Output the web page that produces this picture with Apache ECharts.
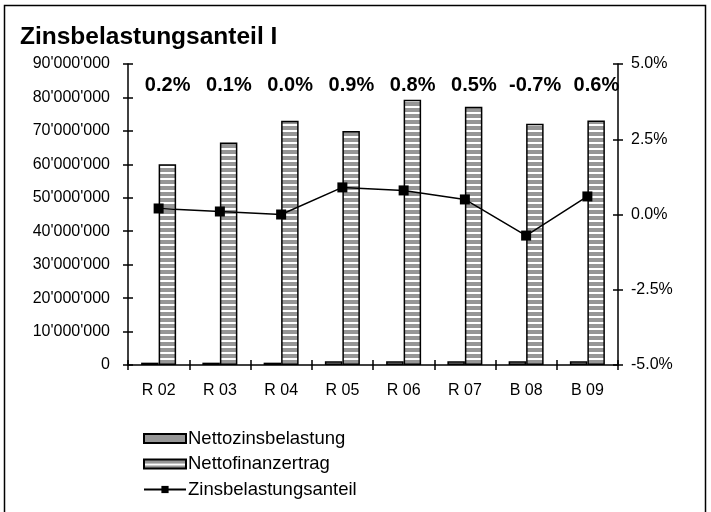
<!DOCTYPE html>
<html>
<head>
<meta charset="utf-8">
<script src="https://cdn.jsdelivr.net/npm/echarts@6/dist/echarts.min.js"></script>
<style>
  html, body { margin: 0; padding: 0; background: #fff; }
  #chart { width: 711px; height: 512px; }
</style>
</head>
<body>
<div id="chart"></div>
<script>
// Jahre (Rechnung / Budget)
const categories = ['R 02', 'R 03', 'R 04', 'R 05', 'R 06', 'R 07', 'B 08', 'B 09'];
// Nettozinsbelastung in CHF
const nettozinsbelastung = [700000, 700000, 700000, 1100000, 1100000, 1100000, 1100000, 1100000];
// Nettofinanzertrag in CHF
const nettofinanzertrag = [60000000, 66500000, 73000000, 70000000, 79300000, 77200000, 72100000, 73100000];
// Zinsbelastungsanteil in Prozent
const zinsanteil = [0.2, 0.1, 0.0, 0.9, 0.8, 0.5, -0.7, 0.6];
// Achsen
const leftTicks = { min: 0, max: 90000000, interval: 10000000 };
const rightTicks = { min: -5, max: 5, interval: 2.5 };

const FONT = '"Liberation Sans", Arial, sans-serif';

// horizontal stripe fill for the Nettofinanzertrag bars
function stripePattern() {
  const c = document.createElement('canvas');
  c.width = 4; c.height = 6;
  const g = c.getContext('2d');
  g.fillStyle = '#969696';
  g.fillRect(0, 0, 4, 6);
  g.fillStyle = '#ffffff';
  g.fillRect(0, 4, 4, 2);
  return c;
}

function fmtThousands(v) {
  return String(Math.round(v)).replace(/\B(?=(\d{3})+(?!\d))/g, "'");
}

const chart = echarts.init(document.getElementById('chart'), null, { renderer: 'canvas' });

// ticks cross the axis lines: outer half on the main axes, inner half on label-less twins
const axisLine = { show: true, onZero: false, lineStyle: { color: '#000', width: 1.5 } };
const hiddenLine = { show: true, onZero: false, lineStyle: { color: 'rgba(0,0,0,0)', width: 0 } };
const tickOut = { show: true, inside: false, length: 5, lineStyle: { color: '#000', width: 1.5 } };
const tickIn = { show: true, inside: true, length: 5, lineStyle: { color: '#000', width: 1.5 } };

chart.setOption({
  animation: false,
  backgroundColor: '#fff',
  title: {
    text: 'Zinsbelastungsanteil I',
    left: 15, top: 20,
    textStyle: { fontFamily: FONT, fontSize: 24.5, fontWeight: 'bold', color: '#000' }
  },
  graphic: [{
    type: 'rect',
    shape: { x: 4.5, y: 5.5, width: 701, height: 540 },
    style: { fill: 'none', stroke: '#000', lineWidth: 1.5 },
    silent: true
  }],
  grid: { left: 128, right: 93, top: 64, bottom: 147, containLabel: false },
  legend: {
    orient: 'vertical',
    left: 138, top: 423,
    itemWidth: 42, itemHeight: 9,
    itemGap: 4.5,
    data: [
      { name: 'Nettozinsbelastung', icon: 'rect' },
      { name: 'Nettofinanzertrag', icon: 'rect' },
      { name: 'Zinsbelastungsanteil' }
    ],
    textStyle: { fontFamily: FONT, fontSize: 18.5, color: '#000', lineHeight: 21, padding: [0, 0, 0, -3] }
  },
  xAxis: [{
    type: 'category', data: categories, boundaryGap: true,
    axisLine: axisLine, axisTick: tickOut,
    axisLabel: { fontFamily: FONT, fontSize: 16, color: '#000', margin: 18 },
    splitLine: { show: false }
  }, {
    type: 'category', data: categories, boundaryGap: true, position: 'bottom',
    axisLine: hiddenLine, axisTick: tickIn, axisLabel: { show: false }, splitLine: { show: false }
  }],
  yAxis: [{
    type: 'value', position: 'left', ...leftTicks,
    axisLine: axisLine, axisTick: tickOut,
    axisLabel: { fontFamily: FONT, fontSize: 16, color: '#000', margin: 18, formatter: fmtThousands },
    splitLine: { show: false }
  }, {
    type: 'value', position: 'right', ...rightTicks,
    axisLine: axisLine, axisTick: tickOut,
    axisLabel: { fontFamily: FONT, fontSize: 16, color: '#000', margin: 13, formatter: v => v.toFixed(1) + '%' },
    splitLine: { show: false }
  }, {
    type: 'value', position: 'left', offset: 0, ...leftTicks,
    axisLine: hiddenLine, axisTick: tickIn, axisLabel: { show: false }, splitLine: { show: false }
  }, {
    type: 'value', position: 'right', offset: 0, ...rightTicks,
    axisLine: hiddenLine, axisTick: tickIn, axisLabel: { show: false }, splitLine: { show: false }
  }],
  series: [{
    name: 'Nettozinsbelastung',
    type: 'bar', xAxisIndex: 0, yAxisIndex: 0,
    data: nettozinsbelastung,
    barWidth: 17.5, barGap: '0%',
    itemStyle: { color: '#969696', borderColor: '#000', borderWidth: 1.5 }
  }, {
    name: 'Nettofinanzertrag',
    type: 'bar', xAxisIndex: 0, yAxisIndex: 0,
    data: nettofinanzertrag,
    barWidth: 17.5, barGap: '0%',
    itemStyle: { color: { image: stripePattern(), repeat: 'repeat' }, borderColor: '#000', borderWidth: 1.5 }
  }, {
    name: 'Zinsbelastungsanteil',
    type: 'line', xAxisIndex: 0, yAxisIndex: 1,
    data: zinsanteil,
    symbol: 'rect', symbolSize: 10,
    itemStyle: { color: '#000' },
    lineStyle: { color: '#000', width: 1.5 },
    z: 5
  }, {
    // Prozentangaben über den Säulen
    name: 'Anteil-Beschriftung',
    type: 'custom', xAxisIndex: 0, yAxisIndex: 1,
    data: zinsanteil.map((v, i) => [i, v]),
    renderItem: function (params, api) {
      const x = api.coord([api.value(0), 0])[0] + 9;
      const y = params.coordSys.y + 21;
      return {
        type: 'text',
        style: {
          x: x, y: y,
          text: api.value(1).toFixed(1) + '%',
          align: 'center', verticalAlign: 'middle',
          font: 'bold 20px ' + FONT,
          fill: '#000'
        }
      };
    },
    z: 6
  }]
});
</script>
</body>
</html>
